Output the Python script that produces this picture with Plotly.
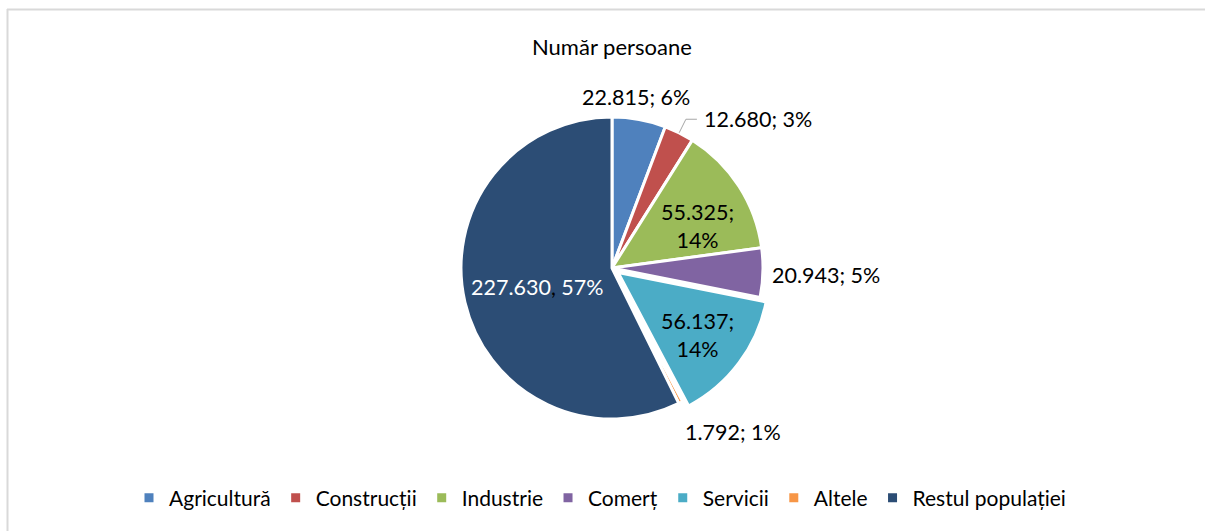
import math
import plotly.graph_objects as go

# Number of persons by sector
categories = ["Agricultură", "Construcții", "Industrie", "Comerț", "Servicii", "Altele", "Restul populației"]
persons = [22815, 12680, 55325, 20943, 56137, 1792, 227630]
percent_labels = ["6%", "3%", "14%", "5%", "14%", "1%", "57%"]
colors = ["#4F81BD", "#C0504D", "#9BBB59", "#8064A2", "#4BACC6", "#F79646", "#2C4D75"]

W, H = 1205, 531
FONT = "Lato"
LABEL_FS = 21.5
LEGEND_FS = 21
TITLE_FS = 22


def fmt(v):
    return f"{v:,}".replace(",", ".")


# label text per slice
label_text = []
for name, v, p in zip(categories, persons, percent_labels):
    if name in ("Industrie", "Servicii"):
        label_text.append(f"{fmt(v)};<br>{p}")
    elif name == "Restul populației":
        label_text.append(f"{fmt(v)}<span style='color:#000000'>,</span> {p}")
    else:
        label_text.append(f"{fmt(v)}; {p}")

# label placement: (radius factor, angle tweak in degrees, x anchor, text colour)
placement = [
    (1.144, -2.3, "center", "#000000"),
    (1.155, 4.6, "left", "#000000"),
    (0.628, 6.5, "center", "#000000"),
    (1.05, 0.7, "left", "#000000"),
    (0.717, 1.5, "center", "#000000"),
    (1.35, -9.3, "center", "#000000"),
    (0.513, -1.1, "center", "#FFFFFF"),
]

pull = [0, 0, 0, 0, 0.05, 0, 0]

# pie centre and radius in pixels
cx, cy, r = 612, 268, 151
half = r * (1 + max(pull))


def to_paper(px, py):
    return px / W, 1 - py / H


def polar(angle_deg, dist):
    a = math.radians(angle_deg)
    return cx + dist * math.sin(a), cy - dist * math.cos(a)


total = sum(persons)
mid_angles = []
acc = 0
for v in persons:
    mid_angles.append((acc + v / 2) / total * 360)
    acc += v

fig = go.Figure(go.Pie(
    labels=categories,
    values=persons,
    textinfo="none",
    marker=dict(colors=colors, line=dict(color="#FFFFFF", width=3)),
    pull=pull,
    sort=False,
    direction="clockwise",
    rotation=0,
    domain=dict(x=[(cx - half) / W, (cx + half) / W],
                y=[1 - (cy + half) / H, 1 - (cy - half) / H]),
))

annotations = [dict(
    text="Număr persoane", x=611.5 / W, y=1 - 46 / H,
    xref="paper", yref="paper", xanchor="center", yanchor="middle",
    showarrow=False, font=dict(family=FONT, size=TITLE_FS, color="#000000"),
)]

for txt, ang, (rf, dang, xa, col) in zip(label_text, mid_angles, placement):
    px, py = polar(ang + dang, r * rf)
    x, y = to_paper(px, py)
    annotations.append(dict(
        text=txt, x=x, y=y, xref="paper", yref="paper",
        xanchor=xa, yanchor="middle", align="center", showarrow=False,
        font=dict(family=FONT, size=LABEL_FS, color=col),
    ))

# leader line for the Construcții label
ca = mid_angles[1]
p0 = polar(ca, r * 1.0)
p1 = polar(ca, r * 1.10)
p2 = (p1[0] + 11, p1[1])
pts = [to_paper(*p) for p in (p0, p1, p2)]
leader = "M {} {} L {} {} L {} {}".format(*[c for p in pts for c in p])

fig.update_layout(
    width=W, height=H,
    margin=dict(l=0, r=0, t=0, b=0),
    paper_bgcolor="#FFFFFF",
    plot_bgcolor="#FFFFFF",
    font=dict(family=FONT, size=LEGEND_FS, color="#000000"),
    showlegend=True,
    legend=dict(
        orientation="h",
        x=600 / W, xanchor="center",
        y=1 - 498 / H, yanchor="middle",
        font=dict(family=FONT, size=LEGEND_FS, color="#000000"),
        itemwidth=30,
        traceorder="normal",
    ),
    annotations=annotations,
    shapes=[
        dict(type="path", xref="paper", yref="paper", path=leader,
             line=dict(color="#A6A6A6", width=1)),
        dict(type="line", xref="paper", yref="paper",
             x0=7 / W, x1=1.0, y0=1 - 9.5 / H, y1=1 - 9.5 / H,
             line=dict(color="#D9D9D9", width=2)),
        dict(type="line", xref="paper", yref="paper",
             x0=7.5 / W, x1=7.5 / W, y0=0, y1=1 - 9 / H,
             line=dict(color="#D9D9D9", width=2)),
    ],
)

fig.write_html("out.html")
